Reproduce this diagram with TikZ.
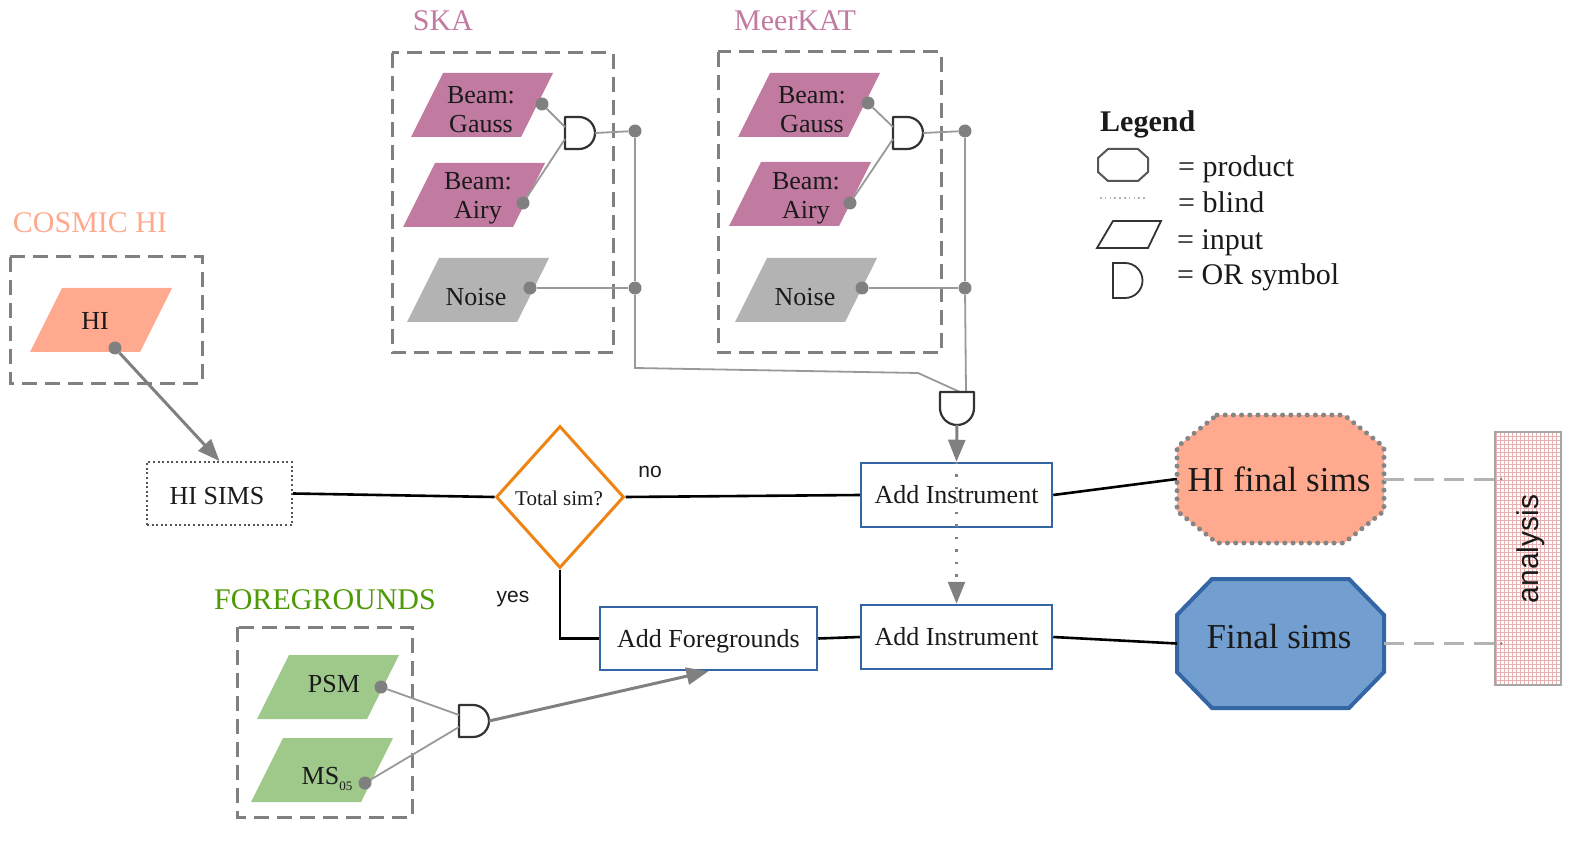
\documentclass[tikz,border=0pt]{standalone}
\usepackage{fontspec}
\setmainfont{Liberation Serif}
\newfontfamily\sansf{Liberation Sans}
\usetikzlibrary{arrows.meta,calc,shapes.geometric}

\definecolor{boxgray}{HTML}{808080}
\definecolor{wiregray}{HTML}{999999}
\definecolor{gatecol}{HTML}{333333}
\definecolor{dotgray}{HTML}{808080}
\definecolor{dkgray}{HTML}{555555}
\definecolor{boxblue}{HTML}{3465A4}
\definecolor{mauve}{HTML}{C27BA0}
\definecolor{noisegray}{HTML}{B3B3B3}
\definecolor{salmon}{HTML}{FFA98F}
\definecolor{fggreen}{HTML}{9FC98A}
\definecolor{fgtext}{HTML}{4E9A06}
\definecolor{orng}{HTML}{EE8414}
\definecolor{skyblue}{HTML}{729FCF}
\definecolor{gridpink}{HTML}{E8B0B0}
\definecolor{ltdash}{HTML}{B3B3B3}
\definecolor{octdot}{HTML}{858585}
\definecolor{txt}{HTML}{1A1A1A}

\newcommand\myfN{\fontsize{26}{29}\selectfont}
\newcommand\myfL{\fontsize{30}{33}\selectfont}
\newcommand\myfB{\fontsize{35}{38}\selectfont}
\newcommand\myfS{\sansf\fontsize{21}{23}\selectfont}

% parallelogram input: name, cx, cy, colour, text x, text y, text
\newcommand\inpara[7]{%
  \fill[#4] (#2-55+16,#3-32) -- (#2+55+16,#3-32) -- (#2+55-16,#3+32) -- (#2-55-16,#3+32) -- cycle;
  \node[ptext] (#1) at (#5,#6) {#7};}
% OR gate opening to the right: name, left x, centre y
\newcommand\orgate[3]{%
  \draw[gatestyle] (#2,#3-16) -- (#2+14,#3-16) arc[start angle=90,end angle=-90,radius=16pt] -- (#2,#3+16) -- cycle;
  \coordinate (#1-a) at (#2,#3-6);
  \coordinate (#1-b) at (#2,#3+6);
  \coordinate (#1-o) at (#2+30,#3);}

\begin{document}
\begin{tikzpicture}[x=1pt,y=-1pt,
  grpbox/.style={draw=boxgray, line width=3pt, dash pattern=on 15pt off 8pt},
  wire/.style={draw=wiregray, line width=1.8pt},
  gatestyle/.style={draw=gatecol, line width=2.2pt, fill=white, line join=round},
  dotnode/.style={circle, fill=dotgray, inner sep=0pt, minimum size=13pt},
  flow/.style={draw=black, line width=2.6pt},
  garrow/.style={draw=dotgray, line width=3pt, -{Triangle[length=22pt,width=17pt]}},
  blind/.style={draw=dotgray, line width=2.5pt, dash pattern=on 2.5pt off 10pt, -{Triangle[length=22pt,width=17pt]}},
  procbox/.style={draw=boxblue, line width=2.5pt, fill=white, minimum width=191pt, minimum height=64pt, inner sep=0pt, font=\myfN, text=txt},
  ptext/.style={align=center, font=\myfN, inner sep=0pt, text=txt},
  lbl/.style={font=\myfL, inner sep=0pt},
  andash/.style={draw=ltdash, line width=3pt, dash pattern=on 20pt off 10pt},
  legtxt/.style={font=\myfL, anchor=base west, inner sep=0pt, text=txt},
]
\useasboundingbox (0,0) rectangle (1579,858);

% ---------- group boxes ----------
\draw[grpbox] (392,53) rectangle (613,353);
\draw[grpbox] (718,52) rectangle (941,353);
\draw[grpbox] (10,257) rectangle (202,383);
\draw[grpbox] (237,627) rectangle (412,817);

\node[lbl, text=mauve] (lska) at (443,21) {SKA};
\node[lbl, text=mauve] (lmk) at (795,21) {MeerKAT};
\node[lbl, text=salmon] (lhi) at (90,223) {COSMIC HI};
\node[lbl, text=fgtext] (lfg) at (325,600) {FOREGROUNDS};

% ---------- inputs ----------
\inpara{skaG}{482}{105}{mauve}{481}{110}{Beam:\\Gauss}
\inpara{skaA}{474}{195}{mauve}{478}{198}{Beam:\\Airy}
\inpara{skaN}{478}{290}{noisegray}{476}{297}{Noise}
\inpara{mkG}{809}{105}{mauve}{812}{110}{Beam:\\Gauss}
\inpara{mkA}{800}{194}{mauve}{806}{198}{Beam:\\Airy}
\inpara{mkN}{806}{290}{noisegray}{805}{297}{Noise}
\inpara{hi}{101}{320}{salmon}{95}{321}{HI}
\inpara{psm}{328}{687}{fggreen}{334}{684}{PSM}
\inpara{ms}{322}{770}{fggreen}{327}{779}{MS\raisebox{-6pt}{\fontsize{13}{13}\selectfont 05}}

% ---------- gates ----------
\orgate{skaOR}{565}{133}
\orgate{mkOR}{893}{133}
\orgate{fgOR}{459}{721}

% ---------- dots ----------
\node[dotnode] (skaGd) at (542,104) {};
\node[dotnode] (skaAd) at (523,203) {};
\node[dotnode] (skaNd) at (530,288) {};
\node[dotnode] (skaJ1) at (635,131) {};
\node[dotnode] (skaJ2) at (635,288) {};
\node[dotnode] (mkGd) at (868,103) {};
\node[dotnode] (mkAd) at (850,203) {};
\node[dotnode] (mkNd) at (862,288) {};
\node[dotnode] (mkJ1) at (965,131) {};
\node[dotnode] (mkJ2) at (965,288) {};
\node[dotnode] (hid) at (115,348) {};
\node[dotnode] (psmd) at (381,687) {};
\node[dotnode] (msd) at (365,783) {};

\coordinate (bendA) at (635,368);
\coordinate (bendB) at (918,373);
\coordinate (bg-a) at (960,392);
\coordinate (bg-b) at (966,392);
\coordinate (bg-o) at (957,425);

% ---------- wires ----------
\draw[wire] (skaGd) -- (skaOR-a);
\draw[wire] (skaAd) -- (skaOR-b);
\draw[wire] (skaOR-o) -- (skaJ1);
\draw[wire] (skaNd) -- (skaJ2);
\draw[wire] (skaJ1) -- (skaJ2);
\draw[wire] (skaJ2) -- (bendA) -- (bendB) -- (bg-a);
\draw[wire] (mkGd) -- (mkOR-a);
\draw[wire] (mkAd) -- (mkOR-b);
\draw[wire] (mkOR-o) -- (mkJ1);
\draw[wire] (mkNd) -- (mkJ2);
\draw[wire] (mkJ1) -- (mkJ2);
\draw[wire] (mkJ2) -- (bg-b);
\draw[wire] (psmd) -- (fgOR-a);
\draw[wire] (msd) -- (fgOR-b);

% bottom gate (opening upwards)
\draw[gatestyle] (940,392) -- (974,392) -- (974,408) arc[start angle=0,end angle=-180,radius=17pt] -- cycle;

% ---------- main nodes ----------
\node[draw=dkgray, line width=2pt, dash pattern=on 2pt off 2.6pt, minimum width=145pt, minimum height=63pt, inner sep=0pt] (hisims) at (219.5,493.5) {};
\node[font=\myfN, text=txt, inner sep=0pt] (hisimst) at (217,496) {HI SIMS};
\node[diamond, draw=orng, line width=3pt, minimum width=128pt, minimum height=142pt, inner sep=0pt] (dia) at (560,497) {};
\node[font=\fontsize{21}{21}\selectfont, inner sep=0pt, text=txt] (diat) at (559,498) {Total sim?};
\node[procbox] (ai1) at (956.5,495) {Add Instrument};
\node[procbox] (ai2) at (956.5,637) {Add Instrument};
\node[procbox, minimum width=217pt, minimum height=63pt, text depth=0pt] (af) at (708.5,638.5) {Add Foregrounds};

% octagons
\draw[fill=salmon, draw=octdot, line width=5pt, line cap=round, dash pattern=on 0pt off 8.2pt]
  (1217,415) -- (1344,415) -- (1384,447) -- (1384,511) -- (1344,543) -- (1217,543) -- (1177,511) -- (1177,447) -- cycle;
\node[minimum width=207pt, minimum height=128pt, inner sep=0pt] (hifs) at (1280.5,479) {};
\node[font=\myfB, text=txt, inner sep=0pt] (hifst) at (1279,479) {HI final sims};
\draw[fill=skyblue, draw=boxblue, line width=4pt]
  (1212,579) -- (1349,579) -- (1384,615) -- (1384,672) -- (1349,708) -- (1212,708) -- (1177,672) -- (1177,615) -- cycle;
\node[minimum width=207pt, minimum height=129pt, inner sep=0pt] (fs) at (1280.5,643.5) {};
\node[font=\myfB, text=txt, inner sep=0pt] (fst) at (1279,637) {Final sims};

% analysis box
\draw[gridpink, line width=0.9pt, step=4pt] (1495,432) grid (1561,685);
\node[draw=boxgray!70, line width=1.5pt, minimum width=66pt, minimum height=253pt, inner sep=0pt] (ana) at (1528,558.5) {};
\node[rotate=90, font=\sansf\fontsize{30}{30}\selectfont, inner sep=0pt, text=txt] (anat) at (1531,549) {analysis};

% ---------- connectors ----------
\draw[flow] (hisims.east) -- (dia.west);
\draw[flow] (dia.east) -- (ai1.west);
\draw[flow] (dia.south) |- (af.west);
\draw[flow] (af.east) -- (ai2.west);
\draw[flow] (ai1.east) -- (hifs.west);
\draw[flow] (ai2.east) -- (fs.west);
\draw[garrow] (hid) -- (hisims.north);
\draw[garrow] (fgOR-o) -- (af.south);
\draw[garrow] (bg-o) -- (ai1.north);
\draw[blind] (ai1.north) -- (ai2.north);
\draw[andash] (hifs.east) -- (hifs.east -| ana.west);
\draw[andash] (fs.east) -- (fs.east -| ana.west);
\fill[dotgray] ($(hifs.east -| ana.west)+(7,0)$) circle[radius=1.4pt];
\fill[dotgray] ($(fs.east -| ana.west)+(7,0)$) circle[radius=1.4pt];

\node[font=\myfS, inner sep=0pt, text=txt] (lno) at (650,472) {no};
\node[font=\myfS, inner sep=0pt, text=txt] (lyes) at (513,599) {yes};

% ---------- legend ----------
\node[legtxt, font=\bfseries\myfL] (legt) at (1100,132) {Legend};
\draw[draw=dkgray, line width=2pt] (1108,149) -- (1138,149) -- (1148,158) -- (1148,172) -- (1138,181) -- (1108,181) -- (1098,172) -- (1098,158) -- cycle;
\draw[draw=ltdash, line width=1.6pt, dash pattern=on 1.6pt off 3.2pt] (1100,198) -- (1147,198);
\draw[draw=gatecol, line width=1.8pt] (1113,221) -- (1161,221) -- (1148,248) -- (1097,248) -- cycle;
\draw[draw=gatecol, line width=1.8pt] (1113,263) -- (1125,263) arc[start angle=90,end angle=-90,radius=17.5pt] -- (1113,298) -- cycle;
\node[legtxt] (leg1) at (1178,177) {= product};
\node[legtxt] (leg2) at (1178,213) {= blind};
\node[legtxt] (leg3) at (1177,250) {= input};
\node[legtxt] (leg4) at (1177,285) {= OR symbol};
\end{tikzpicture}
\end{document}
